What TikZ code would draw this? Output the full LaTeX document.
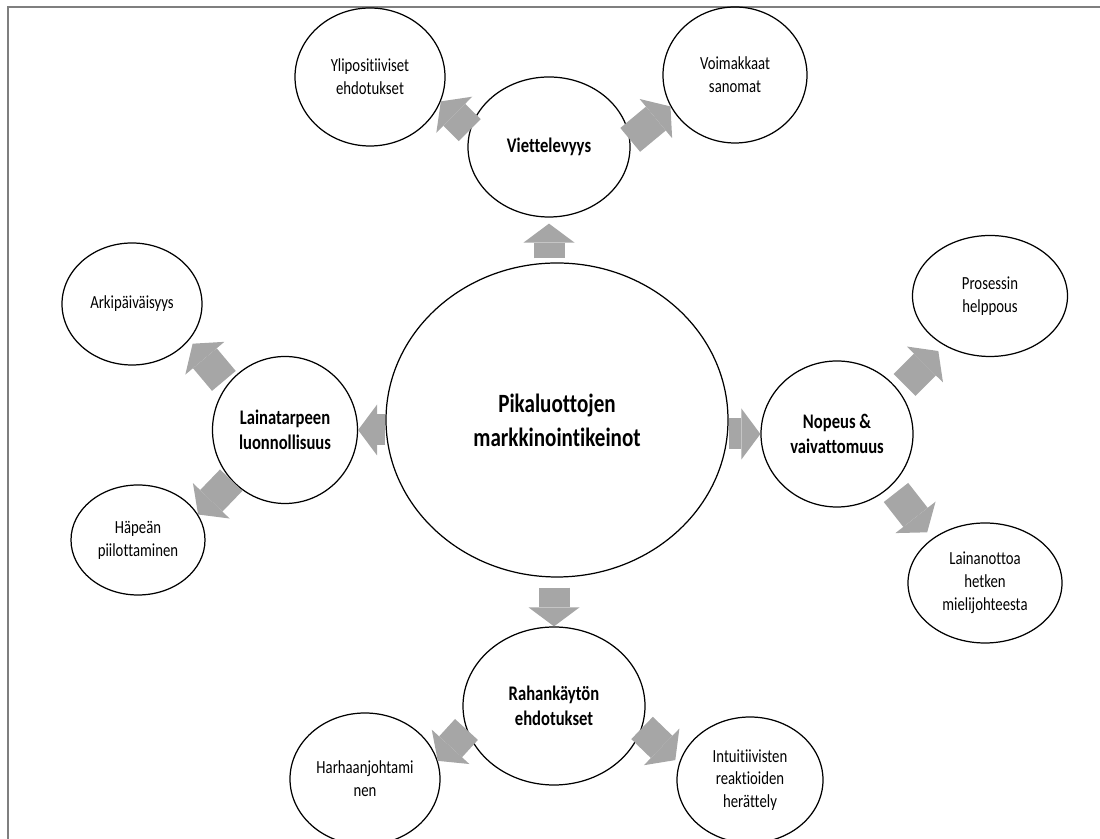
\documentclass[tikz,border=0pt]{standalone}
\usepackage{fontspec}
\setmainfont{Carlito}[FakeStretch=0.8,Ligatures=NoCommon]
\usetikzlibrary{shapes.geometric,arrows.meta}
\definecolor{arrowgray}{HTML}{A6A6A6}
\definecolor{framegray}{HTML}{7F7F7F}
\tikzset{
  bubble/.style={draw, ellipse, line width=0.7pt, align=center, inner sep=0pt},
  mainbubble/.style={bubble, font=\bfseries\fontsize{15}{19.4}\selectfont},
  subbubble/.style={bubble, font=\bfseries\fontsize{11.8}{14.5}\selectfont},
  leafbubble/.style={bubble, font=\fontsize{10.5}{13}\selectfont},
  blockarrow/.style={draw=arrowgray, line width=0.62cm,
    -{Triangle[length=0.38cm,width=1.02cm,line width=0pt]}}
}
\begin{document}
\begin{tikzpicture}[x=1cm,y=1cm]
\useasboundingbox (0,0) rectangle (22,16.78);
\clip (0,0) rectangle (22,16.78);
\draw[framegray, line width=0.6pt] (0.16,0) -- (0.16,16.64) -- (22,16.64);

\node[mainbubble, minimum width=6.84cm, minimum height=6.28cm] (cent) at (11.14,8.38) {Pikaluottojen\\markkinointikeinot};

\node[subbubble, minimum width=3.24cm, minimum height=2.80cm] (viet) at (10.98,13.84) {Viettelevyys};
\node[subbubble, minimum width=2.90cm, minimum height=2.94cm] (laina) at (5.70,8.18) {Lainatarpeen\\luonnollisuus};
\node[subbubble, minimum width=3.04cm, minimum height=2.92cm] (nopeus) at (16.74,8.10) {Nopeus \&\\vaivattomuus};
\node[subbubble, minimum width=3.64cm, minimum height=3.16cm] (raha) at (11.08,2.66) {Rahankäytön\\ehdotukset};

\node[leafbubble, minimum width=3.00cm, minimum height=2.76cm] (ylip) at (7.40,15.24) {Ylipositiiviset\\ehdotukset};
\node[leafbubble, minimum width=2.88cm, minimum height=2.72cm] (voim) at (14.70,15.28) {Voimakkaat\\sanomat};
\node[leafbubble, minimum width=2.80cm, minimum height=2.44cm] (arki) at (2.64,10.70) {Arkipäiväisyys};
\node[leafbubble, minimum width=2.68cm, minimum height=2.20cm] (hapea) at (2.76,5.98) {Häpeän\\piilottaminen};
\node[leafbubble, minimum width=3.10cm, minimum height=2.42cm] (prosessi) at (19.80,10.86) {Prosessin\\helppous};
\node[leafbubble, minimum width=3.08cm, minimum height=2.40cm] (lainanotto) at (19.70,5.12) {Lainanottoa\\hetken\\mielijohteesta};
\node[leafbubble, minimum width=3.00cm, minimum height=2.64cm] (harha) at (7.30,1.20) {Harhaanjohtami\\nen};
\node[leafbubble, minimum width=2.92cm, minimum height=2.52cm] (intu) at (15.00,1.18) {Intuitiivisten\\reaktioiden\\herättely};

\draw[blockarrow, shorten <=0.08cm, shorten >=0.12cm] (viet.south |- cent.north) -- (viet.south);
\draw[blockarrow] (nopeus.west -| cent.east) -- (nopeus.west);
\draw[blockarrow, shorten <=0.2cm] (raha.north |- cent.south) -- (raha.north);
\draw[blockarrow] (laina.east -| cent.west) -- (laina.east);

\draw[blockarrow] (viet.168) -- (ylip.-19);
\draw[blockarrow] (viet.5) -- (voim.-154);
\draw[blockarrow, shorten <=0.1cm, shorten >=0.1cm] (laina.142) -- (arki.-32);
\draw[blockarrow] (laina.-137) -- (hapea.23);
\draw[blockarrow, shorten <=0.16cm, shorten >=0.16cm] (nopeus.35) -- (prosessi.-133);
\draw[blockarrow, shorten <=0.16cm, shorten >=0.16cm] (nopeus.-44) -- (lainanotto.140);
\draw[blockarrow] (raha.-165) -- (harha.14);
\draw[blockarrow, shorten >=0.1cm] (raha.-14) -- (intu.167);
\end{tikzpicture}
\end{document}
